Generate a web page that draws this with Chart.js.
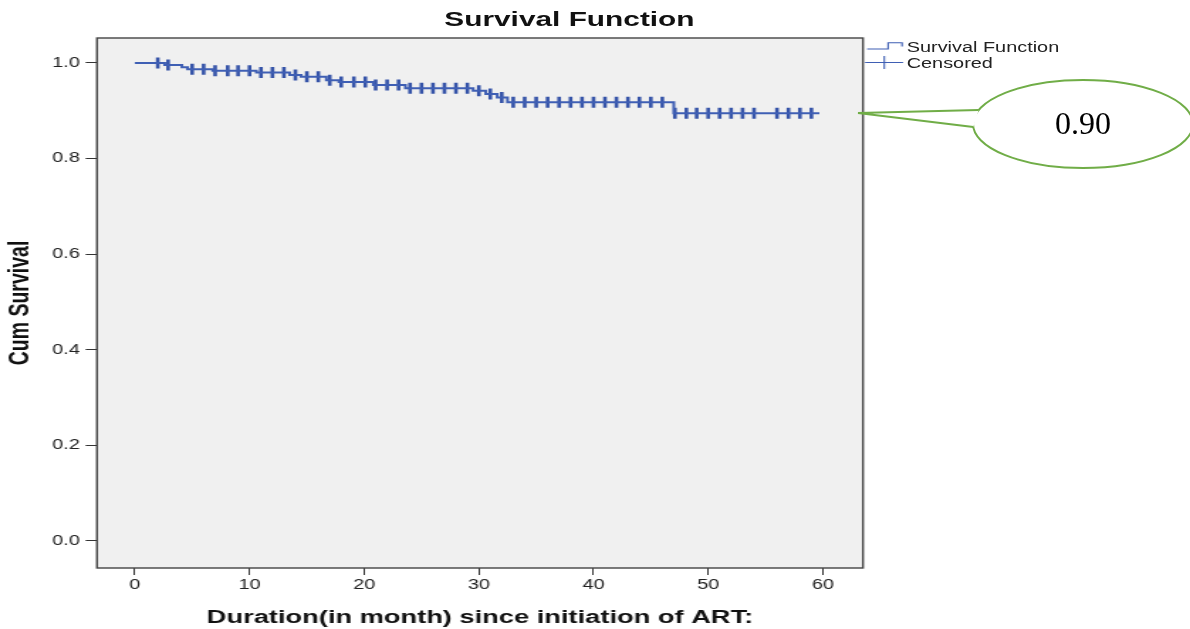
<!DOCTYPE html>
<html>
<head>
<meta charset="utf-8">
<title>Survival Function</title>
<script src="https://cdn.jsdelivr.net/npm/chart.js@4.4.0/dist/chart.umd.min.js"></script>
<style>
html, body { margin: 0; padding: 0; background: #fff; overflow: hidden; }
#page { position: relative; width: 1190px; height: 629px; }
/* the SPSS export is stretched sideways, so the chart is drawn narrow and widened */
#stretch { position: absolute; left: 0; top: 0; width: 838px; height: 629px;
  transform: scaleX(1.42005); transform-origin: 0 0;
  font-family: "Liberation Sans", Arial, sans-serif; }
#chart1 { position: absolute; left: 0; top: 0; }
.title { position: absolute; left: 301px; width: 200px; top: 7px; text-align: center;
  font-weight: bold; font-size: 21px; line-height: 24px; color: #111; white-space: nowrap; }
.leg { position: absolute; left: 638.5px; font-size: 14px; line-height: 16px; color: #222; white-space: nowrap; }
#callout { position: absolute; left: 0; top: 0; }
.calloutText { position: absolute; left: 1033px; width: 100px; top: 104px; text-align: center;
  font-family: "Liberation Serif", "Times New Roman", serif; font-size: 32px; line-height: 38px; color: #000; }
</style>
</head>
<body>
<div id="page">
  <div id="stretch">
    <canvas id="chart1" width="838" height="629"></canvas>
    <div class="title">Survival Function</div>
    <div class="leg" style="top:38.7px">Survival Function</div>
    <div class="leg" style="top:55.3px">Censored</div>
  </div>
  <svg id="callout" width="1190" height="629">
    <ellipse cx="1083" cy="124" rx="110" ry="44" fill="#fff" stroke="#70AD47" stroke-width="2"></ellipse>
    <path d="M978.7 110 L858 113 L973.3 127 Z" fill="#fff" stroke="none"></path>
    <path d="M978.7 110 L858 113 L973.3 127" fill="none" stroke="#70AD47" stroke-width="2" stroke-linejoin="miter"></path>
  </svg>
  <div class="calloutText">0.90</div>
</div>
<script>
// Kaplan-Meier estimate
var eventTimes = [0, 2.6, 4.1, 4.6, 6.8, 10.6, 13.5, 14.5, 16.7, 17.8, 20.8, 23.6, 29.5, 30.6, 31.6, 32.5, 47.0, 59.7];
var survival = [1.000, 0.996, 0.991, 0.987, 0.984, 0.980, 0.975, 0.971, 0.964, 0.960, 0.954, 0.947, 0.942, 0.935, 0.928, 0.918, 0.895, 0.895];

// censored cases (months)
var censorTimes = [2.0, 2.9, 5.0, 6.0, 7.0, 8.1, 9.0, 10.0, 11.0, 12.0, 13.0, 14.0, 15.0, 16.0, 17.0, 18.0,
  19.1, 20.1, 21.0, 22.0, 23.0, 24.0, 25.0, 26.0, 27.0, 28.0, 29.0, 30.0, 31.0, 32.0, 33.0, 34.0, 35.0,
  36.0, 37.0, 38.0, 39.0, 40.0, 41.0, 42.0, 43.0, 44.0, 45.0, 46.0, 47.1, 48.1, 49.0, 50.0, 51.0, 52.0,
  53.0, 54.0, 56.0, 57.0, 58.0, 59.0];

var xTicks = [0, 10, 20, 30, 40, 50, 60];
var yTicks = [0.0, 0.2, 0.4, 0.6, 0.8, 1.0];

var lineColor = '#3F5FB4';
var markColor = '#3553A8';
var fontFamily = '"Liberation Sans", Arial, sans-serif';

// survival value in force at time t (censor marks sit on the curve)
function survivalAt(t){
    var s = survival[0];
    for (var i = 0; i < eventTimes.length; i++){
        if (eventTimes[i] <= t) s = survival[i];
    }
    return s;
}

var curveData = eventTimes.map(function(t, i){ return {x: t, y: survival[i]}; });
var censorData = censorTimes.map(function(t){ return {x: t, y: survivalAt(t)}; });

// grey plot box + frame + legend symbols
var plotFrame = {
    id: 'plotFrame',
    beforeDraw: function(chart){
        var a = chart.chartArea, c = chart.ctx;
        c.save();
        c.fillStyle = '#F0F0F0';
        c.fillRect(a.left, a.top, a.right - a.left, a.bottom - a.top);
        c.restore();
    },
    afterDraw: function(chart){
        var a = chart.chartArea, c = chart.ctx;
        c.save();
        c.strokeStyle = '#444';
        c.lineWidth = 1.4;
        c.strokeRect(a.left, a.top, a.right - a.left, a.bottom - a.top);

        c.strokeStyle = lineColor;
        c.lineWidth = 1.1;
        c.beginPath();
        c.moveTo(610.6, 49); c.lineTo(625.4, 49); c.lineTo(625.4, 42.7);
        c.lineTo(635.2, 42.7); c.lineTo(635.2, 46.5);
        c.stroke();
        c.beginPath();
        c.moveTo(609.2, 62.5); c.lineTo(635.9, 62.5);
        c.moveTo(622.7, 56); c.lineTo(622.7, 69);
        c.stroke();
        c.restore();
    }
};

var chart1 = new Chart(document.getElementById('chart1').getContext('2d'), {
    type: 'scatter',
    data: {
        datasets: [{
            label: 'Survival Function',
            data: curveData,
            showLine: true,
            stepped: true,
            borderColor: lineColor,
            borderWidth: 2,
            pointRadius: 0
        }, {
            label: 'Censored',
            data: censorData,
            showLine: false,
            pointStyle: 'line',
            pointRotation: 90,
            pointRadius: 5.5,
            pointBorderWidth: 2.6,
            pointBorderColor: markColor,
            pointBackgroundColor: markColor
        }]
    },
    plugins: [plotFrame],
    options: {
        responsive: false,
        animation: false,
        devicePixelRatio: 1,
        events: [],
        layout: {padding: {left: 0, top: 38, right: 230.3, bottom: 0}},
        plugins: {
            legend: {display: false},
            tooltip: {enabled: false},
            title: {display: false}
        },
        scales: {
            x: {
                type: 'linear',
                min: -3.3,
                max: 63.5,
                afterBuildTicks: function(scale){
                    scale.ticks = xTicks.map(function(v){ return {value: v}; });
                },
                afterFit: function(scale){ scale.height = 61; },
                ticks: {
                    autoSkip: false,
                    padding: 2,
                    color: '#222',
                    font: {family: fontFamily, size: 14},
                    callback: function(v){ return String(v); }
                },
                grid: {display: true, drawOnChartArea: false, drawTicks: true, tickLength: 7, color: '#333', lineWidth: 1},
                border: {display: false},
                title: {
                    display: true,
                    text: 'Duration(in month) since initiation of ART:',
                    color: '#111',
                    font: {family: fontFamily, size: 19.2, weight: 'bold'},
                    padding: {top: 0, bottom: 0}
                }
            },
            y: {
                type: 'linear',
                min: -0.0565,
                max: 1.0523,
                afterBuildTicks: function(scale){
                    scale.ticks = yTicks.map(function(v){ return {value: v}; });
                },
                afterFit: function(scale){ scale.width = 68.3; },
                ticks: {
                    autoSkip: false,
                    padding: 4,
                    color: '#222',
                    font: {family: fontFamily, size: 14},
                    callback: function(v){ return v.toFixed(1); }
                },
                grid: {display: true, drawOnChartArea: false, drawTicks: true, tickLength: 8, color: '#333', lineWidth: 1},
                border: {display: false},
                title: {
                    display: true,
                    text: 'Cum Survival',
                    color: '#111',
                    font: {family: fontFamily, size: 19.5, weight: 'bold'},
                    padding: {top: 3, bottom: 0}
                }
            }
        }
    }
});
</script>
</body>
</html>
